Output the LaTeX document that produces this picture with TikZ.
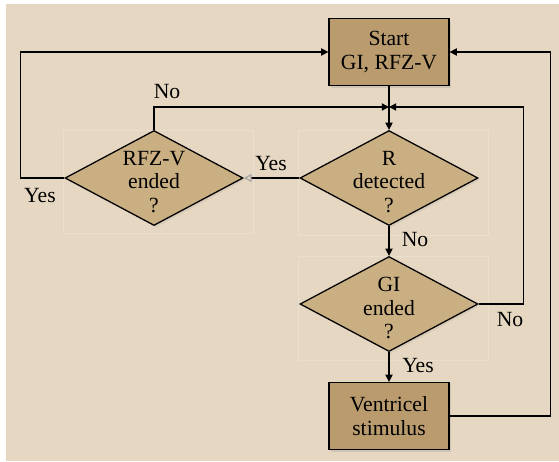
\documentclass[tikz,border=0pt]{standalone}
\usepackage{fontspec}
\setmainfont{Liberation Serif}
\usetikzlibrary{shapes.geometric, arrows.meta, shadows}
\definecolor{fondo}{HTML}{E5D7C1}
\definecolor{caja}{HTML}{B99B6E}
\definecolor{rombo}{HTML}{C9AF82}

\begin{document}
\begin{tikzpicture}[x=0.25mm, y=-0.25mm, line join=miter,
    font=\fontsize{15.4}{17}\selectfont,
    caja/.style={draw, line width=0.9pt, fill=caja, minimum width=30mm, minimum height=16.75mm,
        align=center, inner sep=0pt, drop shadow={opacity=0.2, shadow xshift=0.5mm, shadow yshift=-0.5mm}},
    rombo/.style={diamond, draw, line width=0.9pt, fill=rombo, minimum width=44.5mm, minimum height=23.75mm,
        inner sep=0pt, drop shadow={opacity=0.12, shadow xshift=0.5mm, shadow yshift=-0.5mm}},
    flecha/.style={line width=0.9pt, -{Triangle[length=1.8mm, width=1.8mm]}},
    hueca/.style={line width=0.9pt, -{Triangle[open, length=2mm, width=2mm, color=gray!70]}},
    marco/.style={draw=white, opacity=0.22, line width=0.4pt},
    rotulo/.style={inner sep=0pt}]
    % fondo y margenes
    \useasboundingbox (0,0) rectangle (559,461);
    \fill[fondo] (6,4) rectangle (559,461);
    % recuadros tenues detras de los rombos
    \draw[marco] (63,130) rectangle (253,233);
    \draw[marco] (298,130) rectangle (488,235);
    \draw[marco] (298,256) rectangle (488,360);
    % bloques
    \node[caja] (start) at (389,52) {Start\\GI, RFZ-V};
    \node[rombo, label={[align=center, yshift=-1mm]center:{RFZ-V\\ended\\?}}] (rfz) at (154,178) {};
    \node[rombo, label={[align=center, yshift=-1mm]center:{R\\detected\\?}}] (rdet) at (389,178) {};
    \node[rombo, label={[align=center, yshift=-1mm]center:{GI\\ended\\?}}] (gi) at (389,304) {};
    \node[caja] (vent) at (389,416) {Ventricel\\stimulus};
    \coordinate (junta) at (389,107);
    % conexiones
    \draw[flecha] (start) -- (rdet);
    \draw[flecha] (rdet) -- (gi);
    \draw[flecha] (gi) -- (vent);
    \draw[hueca] (rdet.west) -- (rfz.east);
    \draw[flecha] (rfz.north) |- (junta);
    \draw[flecha] (gi.east) -- ++(45,0) |- (junta);
    \draw[flecha] (rfz.west) -- ++(-44,0) |- (start.west);
    \draw[flecha] (vent.east) -- ++(101,0) |- (start.east);
    % rotulos
    \node[rotulo] (noRfz) at (167,92) {No};
    \node[rotulo] (yesRfz) at (40,196) {Yes};
    \node[rotulo] (yesR) at (271,164) {Yes};
    \node[rotulo] (noR) at (415,240) {No};
    \node[rotulo] (noGi) at (510,320) {No};
    \node[rotulo] (yesGi) at (418,366) {Yes};
\end{tikzpicture}
\end{document}
